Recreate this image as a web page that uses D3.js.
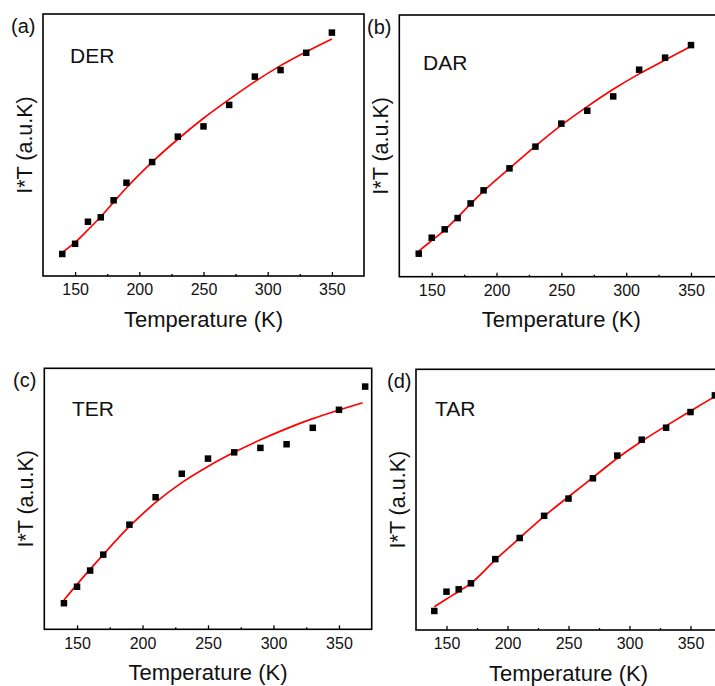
<!DOCTYPE html>
<html>
<head>
<meta charset="utf-8">
<script src="https://cdn.jsdelivr.net/npm/d3@7"></script>
<style>
  html, body { margin: 0; padding: 0; background: #fff; }
  svg { display: block; font-family: "Liberation Sans", Arial, sans-serif; }
</style>
</head>
<body>
<svg id="chart" width="715" height="686"></svg>
<script>
// Measured I*T (arbitrary units) against temperature for the four samples
const temps = [140, 150, 160, 170, 180, 190, 210, 230, 250, 270, 290, 310, 330, 350];
const tempsC = [140, 150, 160, 170, 190, 210, 230, 250, 270, 290, 310, 330, 350, 370];

const derValues = [8.4, 12.3, 20.7, 22.4, 28.9, 35.6, 43.5, 53.2, 57.1, 65.3, 76.1, 78.6, 85.2, 92.9];
const darValues = [8.8, 14.9, 18.1, 22.4, 28.0, 33.0, 41.4, 49.7, 58.5, 63.4, 68.9, 79.1, 83.7, 88.5];
const terValues = [10.0, 16.3, 22.5, 28.6, 40.1, 50.6, 59.6, 65.4, 67.8, 69.5, 70.9, 77.2, 84.1, 93.0];
const tarValues = [7.3, 14.7, 15.6, 17.9, 27.2, 35.3, 43.8, 50.4, 58.2, 66.9, 73.0, 77.6, 83.6, 90.0];

// Fitted curves, sampled at these temperatures
const fitTempsA = [140, 150, 160, 170, 180, 190, 210, 230, 250, 270, 290, 310, 330, 350];
const derFit = [9.0, 12.8, 17.6, 22.6, 28.2, 33.7, 43.5, 52.2, 60.2, 67.4, 74.2, 80.3, 85.6, 90.5];
const fitTempsB = [140, 150, 160, 170, 180, 190, 210, 230, 250, 270, 290, 310, 330, 350];
const darFit = [9.8, 13.8, 17.8, 22.7, 27.8, 32.7, 41.4, 49.9, 57.9, 65.0, 71.6, 77.5, 82.8, 88.0];
const fitTempsC = [140, 150, 170, 190, 210, 230, 250, 270, 290, 310, 330, 350, 368];
const terFit = [11.2, 17.2, 28.6, 39.4, 48.6, 56.2, 62.4, 67.8, 72.6, 76.9, 80.7, 84.0, 86.8];
const fitTempsD = [140, 150, 160, 170, 190, 210, 230, 250, 270, 290, 310, 330, 350, 370, 380];
const tarFit = [8.9, 11.9, 14.8, 17.9, 26.9, 35.3, 43.6, 51.1, 58.5, 65.9, 72.4, 78.3, 84.0, 89.5, 92.0];

const xTicks = [150, 200, 250, 300, 350];
const xMinorTicks = [175, 225, 275, 325];
const xDomain = [125, 375];
const yDomain = [0, 100];

const panelLetters = ["(a)", "(b)", "(c)", "(d)"];
const sampleNames = ["DER", "DAR", "TER", "TAR"];
const xTitle = "Temperature (K)";
const yTitle = "I*T (a.u.K)";

const series = [
  { t: temps, v: derValues, ft: fitTempsA, fv: derFit },
  { t: temps, v: darValues, ft: fitTempsB, fv: darFit },
  { t: tempsC, v: terValues, ft: fitTempsC, fv: terFit },
  { t: tempsC, v: tarValues, ft: fitTempsD, fv: tarFit }
];

// Frame geometry of each panel and placement of its annotations
const layout = [
  { l: 43,    r: 364,   t: 14,    b: 276,   letter: [11, 33],   name: [70, 63] },
  { l: 399.3, r: 723.4, t: 15,    b: 276.7, letter: [367, 34],  name: [423, 70] },
  { l: 44.3,  r: 371.7, t: 368.3, b: 629.3, letter: [13, 387],  name: [72, 416] },
  { l: 416,   r: 721,   t: 369.3, b: 630,   letter: [387, 388], name: [435, 416] }
];

const svg = d3.select("#chart");

layout.forEach((p, i) => {
  const s = series[i];
  const x = d3.scaleLinear().domain(xDomain).range([p.l, p.r]);
  const y = d3.scaleLinear().domain(yDomain).range([p.b, p.t]);
  const g = svg.append("g");

  // bottom axis: inward major and minor ticks
  const axis = d3.axisBottom(x).tickValues(xTicks).tickSizeInner(-4).tickSizeOuter(0).tickPadding(8);
  const ax = g.append("g").attr("transform", `translate(0,${p.b})`).call(axis);
  ax.select(".domain").remove();
  ax.selectAll(".tick line").attr("stroke", "#000").attr("stroke-width", 1.3);
  ax.selectAll(".tick text")
    .attr("font-size", "16px")
    .attr("fill", "#111")
    .attr("font-family", "'Liberation Sans', Arial, sans-serif")
    .attr("dy", "0.71em")
    .attr("y", 8);

  const minor = d3.axisBottom(x).tickValues(xMinorTicks).tickSizeInner(-2).tickSizeOuter(0).tickFormat("");
  const mx = g.append("g").attr("transform", `translate(0,${p.b})`).call(minor);
  mx.select(".domain").remove();
  mx.selectAll(".tick line").attr("stroke", "#000").attr("stroke-width", 1.3);

  // frame
  g.append("rect")
    .attr("x", p.l).attr("y", p.t)
    .attr("width", p.r - p.l).attr("height", p.b - p.t)
    .attr("fill", "none").attr("stroke", "#000").attr("stroke-width", 1.6);

  // fitted curve
  const fitPts = s.ft.map((t, k) => [t, s.fv[k]]);
  const line = d3.line().x(d => x(d[0])).y(d => y(d[1])).curve(d3.curveMonotoneX);
  g.append("path")
    .attr("d", line(fitPts))
    .attr("fill", "none")
    .attr("stroke", "#ff0000")
    .attr("stroke-width", 1.7);

  // data markers
  const size = 6.5;
  g.selectAll("rect.pt")
    .data(s.t.map((t, k) => [t, s.v[k]]))
    .join("rect")
    .attr("class", "pt")
    .attr("x", d => x(d[0]) - size / 2)
    .attr("y", d => y(d[1]) - size / 2)
    .attr("width", size).attr("height", size)
    .attr("fill", "#000");

  // titles
  g.append("text")
    .attr("x", (p.l + p.r) / 2).attr("y", p.b + 50.5)
    .attr("text-anchor", "middle")
    .attr("font-size", "22px").attr("fill", "#111")
    .text(xTitle);

  g.append("text")
    .attr("transform", `translate(${p.l - 11},${(p.t + p.b) / 2}) rotate(-90)`)
    .attr("text-anchor", "middle")
    .attr("font-size", "21.5px").attr("fill", "#111")
    .text(yTitle);

  g.append("text")
    .attr("x", p.letter[0]).attr("y", p.letter[1])
    .attr("font-size", "20px").attr("fill", "#111")
    .text(panelLetters[i]);

  g.append("text")
    .attr("x", p.name[0]).attr("y", p.name[1])
    .attr("font-size", "21px").attr("fill", "#111")
    .text(sampleNames[i]);
});
</script>
</body>
</html>
